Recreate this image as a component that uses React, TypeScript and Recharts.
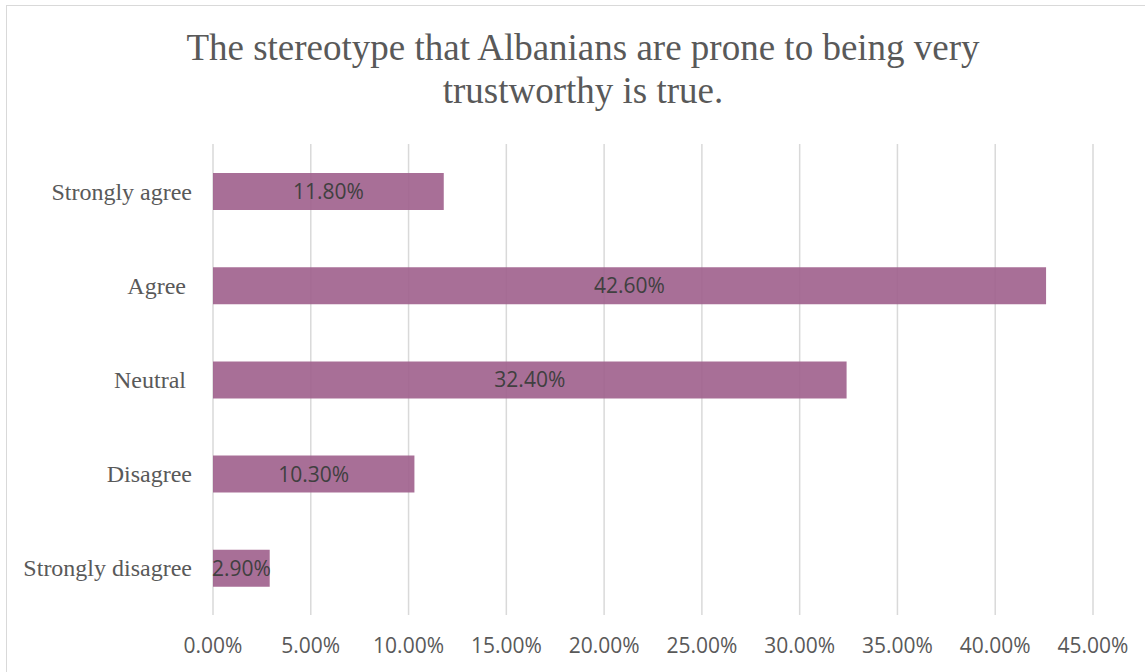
import React from "react";
import {
  BarChart,
  Bar,
  XAxis,
  YAxis,
  CartesianGrid,
  LabelList,
} from "recharts";

// Survey responses (share of respondents, %)
const categories = ["Strongly agree", "Agree ", "Neutral ", "Disagree", "Strongly disagree"];
const shares = [11.8, 42.6, 32.4, 10.3, 2.9];
const xTicks = [0, 5, 10, 15, 20, 25, 30, 35, 40, 45];

const titleLines = [
  "The stereotype that Albanians are prone to being very",
  "trustworthy is true.",
];

const data = categories.map((name, i) => ({ name, value: shares[i] }));

const pct = (v: number) => `${Number(v).toFixed(2)}%`;

const serif = "'Liberation Serif', 'Times New Roman', serif";
const sans = "'Open Sans', 'Noto Sans', sans-serif";

const CategoryTick = (props: any) => {
  const { x, y, payload } = props;
  return (
    <text
      x={x}
      y={y}
      dy="0.35em"
      textAnchor="end"
      fill="#595959"
      fontFamily={serif}
      fontSize={24}
      style={{ whiteSpace: "pre" }}
    >
      {payload.value}
    </text>
  );
};

const ValueTick = (props: any) => {
  const { x, y, payload } = props;
  return (
    <text
      x={x}
      y={y}
      dy="0.71em"
      textAnchor="middle"
      fill="#595959"
      fontFamily={sans}
      fontSize={21}
    >
      {pct(payload.value)}
    </text>
  );
};

export default function App() {
  return (
    <div
      style={{
        position: "absolute",
        left: 0,
        top: 0,
        width: 1145,
        height: 672,
        overflow: "hidden",
        background: "#ffffff",
      }}
    >
      <div
        style={{
          position: "absolute",
          left: 6,
          top: 5,
          width: 1160,
          height: 720,
          border: "1.5px solid #d9d9d9",
          boxSizing: "border-box",
        }}
      />
      <div
        style={{
          position: "absolute",
          left: 183,
          top: 26,
          width: 800,
          textAlign: "center",
          fontFamily: serif,
          fontSize: 37,
          lineHeight: "43px",
          color: "#595959",
        }}
      >
        {titleLines.map((t) => (
          <div key={t}>{t}</div>
        ))}
      </div>
      <div style={{ position: "absolute", left: 0, top: 0 }}>
        <BarChart
          layout="vertical"
          width={1145}
          height={672}
          data={data}
          margin={{ top: 144, right: 52, bottom: 17, left: 0 }}
          barSize={37}
        >
          <CartesianGrid
            horizontal={false}
            vertical={true}
            stroke="#d9d9d9"
            strokeWidth={1.5}
          />
          <XAxis
            type="number"
            domain={[0, 45]}
            ticks={xTicks}
            interval={0}
            height={40}
            axisLine={false}
            tickLine={false}
            tickMargin={17}
            tick={<ValueTick />}
          />
          <YAxis
            type="category"
            dataKey="name"
            width={213}
            axisLine={false}
            tickLine={false}
            tickMargin={15}
            tick={<CategoryTick />}
          />
          <Bar
            dataKey="value"
            fill="#9e5f8c"
            fillOpacity={0.9}
            isAnimationActive={false}
          >
            <LabelList
              dataKey="value"
              position="center"
              formatter={(v: any) => pct(v)}
              fill="#404040"
              fontFamily={sans}
              fontSize={21}
            />
          </Bar>
        </BarChart>
      </div>
    </div>
  );
}
